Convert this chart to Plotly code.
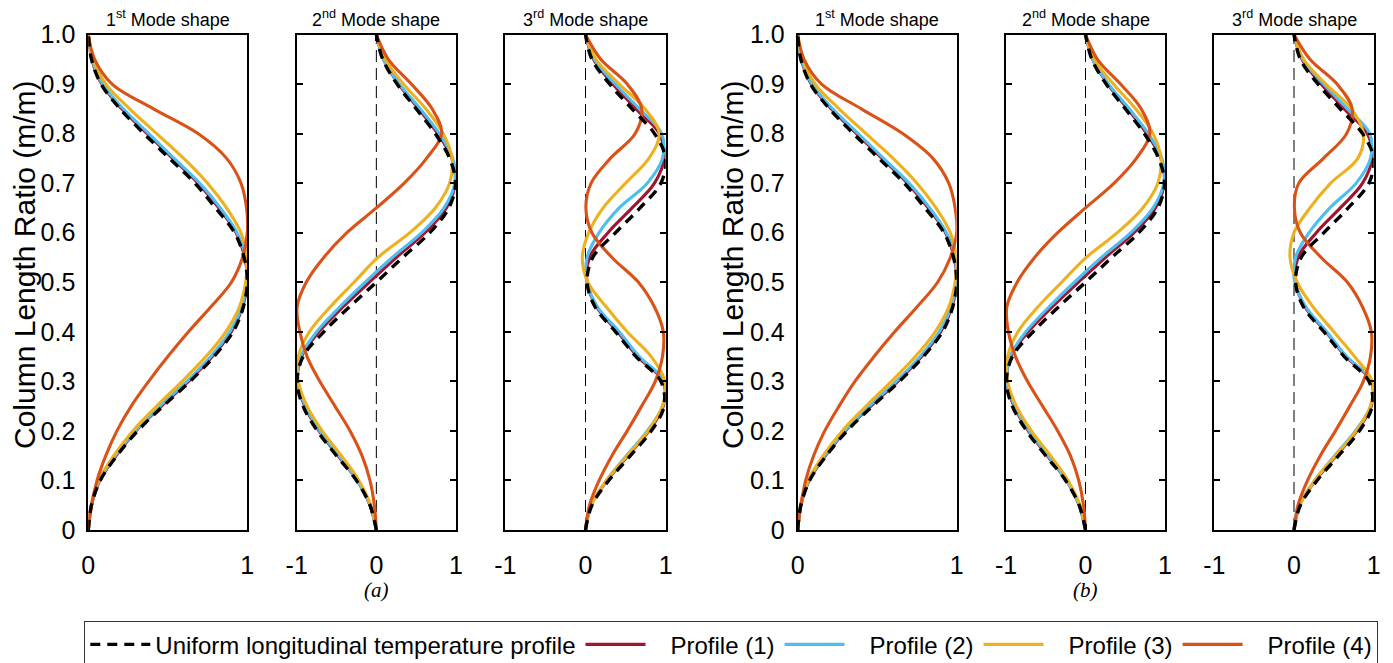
import plotly.graph_objects as go

W, H = 1393, 663

# ---------------- data ----------------
Y = [0.00, 0.05, 0.10, 0.15, 0.20, 0.25, 0.30, 0.35, 0.40, 0.45, 0.50,
     0.55, 0.60, 0.65, 0.70, 0.75, 0.80, 0.85, 0.90, 0.95, 1.00]

# (a) 1st mode
a1_uniform = [0, .02, .075, .18, .31, .47, .64, .79, .91, .975, 1.0, .98, .92, .80, .67, .51, .35, .20, .08, .02, 0]
a1_p1 = [0, .02, .072, .175, .30, .46, .63, .78, .90, .97, .998, .985, .93, .82, .69, .53, .37, .21, .085, .022, 0]
a1_p2 = [0, .02, .07, .17, .295, .45, .62, .77, .89, .965, .995, .99, .935, .83, .70, .54, .38, .22, .09, .024, 0]
a1_p3 = [0, .018, .065, .16, .28, .43, .59, .74, .865, .95, .99, .998, .96, .87, .75, .60, .43, .26, .11, .03, 0]
a1_p4 = [0, .02, .055, .11, .18, .27, .38, .50, .63, .77, .90, .97, 1.0, .995, .96, .87, .69, .41, .15, .04, 0]
# (a) 2nd mode
a2_uniform = [0, -.08, -.25, -.50, -.74, -.92, -.995, -.92, -.66, -.34, 0, .33, .67, .91, .995, .92, .74, .50, .26, .08, 0]
a2_p1 = [0, -.08, -.24, -.48, -.72, -.90, -.99, -.94, -.72, -.42, -.09, .25, .61, .88, .99, .95, .77, .53, .28, .09, 0]
a2_p2 = [0, -.08, -.24, -.47, -.71, -.89, -.99, -.95, -.75, -.46, -.14, .20, .57, .85, .985, .96, .79, .55, .29, .09, 0]
a2_p3 = [0, -.07, -.22, -.44, -.68, -.87, -.98, -.98, -.84, -.58, -.28, .02, .42, .74, .92, .95, .84, .62, .34, .11, 0]
a2_p4 = [0, -.025, -.08, -.18, -.33, -.52, -.71, -.87, -.96, -.995, -.88, -.66, -.37, 0, .35, .63, .82, .70, .44, .15, 0]
# (a) 3rd mode
a3_uniform = [0, .08, .29, .56, .82, .98, .94, .63, .375, .12, .02, .09, .375, .68, .94, 1.0, .86, .58, .30, .08, 0]
a3_p1 = [0, .07, .27, .53, .79, .97, .97, .65, .40, .14, .02, .05, .28, .58, .86, .98, .92, .63, .34, .10, 0]
a3_p2 = [0, .07, .26, .51, .77, .96, .98, .67, .42, .15, .02, .02, .17, .42, .77, .96, .95, .67, .37, .11, 0]
a3_p3 = [0, .07, .26, .52, .78, .96, .99, .82, .52, .26, .03, -.04, .04, .22, .50, .79, .92, .74, .42, .13, 0]
a3_p4 = [0, .05, .17, .33, .52, .70, .87, .96, .97, .86, .66, .33, .08, .005, .07, .31, .62, .70, .52, .19, 0]

# (b) 1st mode
b1_uniform = [0, .02, .075, .18, .31, .47, .64, .79, .91, .975, 1.0, .98, .92, .80, .67, .51, .35, .20, .08, .02, 0]
b1_p1 = [0, .02, .072, .175, .30, .46, .63, .78, .90, .97, .998, .985, .93, .82, .69, .53, .37, .21, .085, .022, 0]
b1_p2 = [0, .02, .07, .17, .295, .45, .62, .77, .89, .965, .995, .99, .935, .83, .70, .54, .38, .22, .09, .024, 0]
b1_p3 = [0, .018, .065, .16, .28, .43, .59, .74, .865, .95, .99, .998, .96, .87, .75, .60, .43, .26, .11, .03, 0]
b1_p4 = [0, .02, .05, .10, .17, .26, .36, .48, .61, .75, .88, .96, 1.0, .99, .95, .85, .66, .40, .15, .04, 0]
# (b) 2nd mode
b2_uniform = [0, -.08, -.25, -.50, -.74, -.92, -.995, -.92, -.66, -.34, 0, .33, .67, .91, .995, .92, .74, .50, .26, .08, 0]
b2_p1 = [0, -.08, -.24, -.48, -.72, -.90, -.99, -.94, -.72, -.42, -.09, .25, .61, .88, .99, .95, .77, .53, .28, .09, 0]
b2_p2 = [0, -.08, -.24, -.47, -.71, -.89, -.99, -.95, -.75, -.46, -.14, .20, .57, .85, .985, .96, .79, .55, .29, .09, 0]
b2_p3 = [0, -.07, -.22, -.44, -.68, -.87, -.98, -.98, -.85, -.60, -.30, .01, .40, .72, .91, .95, .85, .63, .35, .11, 0]
b2_p4 = [0, -.025, -.085, -.19, -.35, -.54, -.73, -.88, -.97, -.99, -.86, -.64, -.35, 0, .36, .64, .81, .70, .44, .15, 0]
# (b) 3rd mode
b3_uniform = [0, .08, .29, .56, .82, .98, .94, .63, .375, .12, .02, .09, .375, .68, .94, 1.0, .86, .58, .30, .08, 0]
b3_p1 = [0, .07, .27, .53, .79, .97, .97, .65, .40, .14, .02, .05, .28, .58, .86, .98, .92, .63, .34, .10, 0]
b3_p2 = [0, .07, .26, .51, .77, .96, .98, .66, .41, .15, .01, .02, .19, .45, .78, .96, .95, .67, .37, .11, 0]
b3_p3 = [0, .07, .26, .52, .78, .96, .98, .76, .50, .24, .04, -.05, .00, .20, .46, .80, .87, .72, .40, .12, 0]
b3_p4 = [0, .05, .17, .33, .52, .70, .87, .96, .97, .86, .67, .34, .08, .005, .06, .37, .66, .73, .54, .20, 0]

series_names = ["Uniform longitudinal temperature profile",
                "Profile (1)", "Profile (2)", "Profile (3)", "Profile (4)"]
panel_titles = ["1<sup>st</sup> Mode shape", "2<sup>nd</sup> Mode shape", "3<sup>rd</sup> Mode shape"]
y_tickvals = [0, 0.1, 0.2, 0.3, 0.4, 0.5, 0.6, 0.7, 0.8, 0.9, 1.0]
y_ticktext = ["0", "0.1", "0.2", "0.3", "0.4", "0.5", "0.6", "0.7", "0.8", "0.9", "1.0"]
group_labels = ["(a)", "(b)"]
y_title = "Column Length Ratio (m/m)"

panels = [
    [a1_uniform, a1_p1, a1_p2, a1_p3, a1_p4],
    [a2_uniform, a2_p1, a2_p2, a2_p3, a2_p4],
    [a3_uniform, a3_p1, a3_p2, a3_p3, a3_p4],
    [b1_uniform, b1_p1, b1_p2, b1_p3, b1_p4],
    [b2_uniform, b2_p1, b2_p2, b2_p3, b2_p4],
    [b3_uniform, b3_p1, b3_p2, b3_p3, b3_p4],
]

# ---------------- styling ----------------
colors = ["black", "#A2142F", "#4DBEEE", "#EDB120", "#D95319"]
FONT = "Liberation Sans, Arial, sans-serif"
NB = "\u00a0"
legend_labels = [series_names[0]] + [NB * 3 + s for s in series_names[1:]]
px_x = [(88.3, 247.3), (296.7, 456.0), (505.3, 665.7),
        (797.7, 956.7), (1006.0, 1165.0), (1214.3, 1373.7)]
py_top, py_bot = 34.5, 530.0
ydom = [1 - py_bot / H, 1 - py_top / H]

fig = go.Figure()

for i, curves in enumerate(panels):
    k = i + 1
    xa = "x" if k == 1 else f"x{k}"
    ya = "y" if k == 1 else f"y{k}"
    order = [1, 2, 3, 4, 0]   # uniform dashed drawn on top
    for j in order:
        fig.add_trace(go.Scatter(
            x=curves[j], y=Y, xaxis=xa, yaxis=ya, mode="lines",
            name=legend_labels[j], legendgroup=series_names[j],
            showlegend=(i == 0), legendrank=j + 1,
            line=dict(color=colors[j], width=3.4 if j == 0 else 3.1,
                      dash="10px,7px" if j == 0 else "solid",
                      shape="spline", smoothing=1.0),
            hoverinfo="skip"))

layout = dict(
    width=W, height=H, margin=dict(l=0, r=0, t=0, b=0, autoexpand=False),
    paper_bgcolor="white", plot_bgcolor="white",
    font=dict(family=FONT, color="black", size=24),
    showlegend=True,
    legend=dict(orientation="h", x=84 / W, y=1 - 621 / H, xanchor="left", yanchor="top",
                bordercolor="#333333", borderwidth=1.3, bgcolor="white",
                font=dict(family=FONT, size=24, color="black"),
                itemwidth=60, tracegroupgap=0, traceorder="normal"),
)

tick_common = dict(ticklen=6, tickwidth=2, tickcolor="black", showgrid=False,
                   zeroline=False, automargin=False, fixedrange=True)

for i in range(6):
    k = i + 1
    kx = "xaxis" if k == 1 else f"xaxis{k}"
    ky = "yaxis" if k == 1 else f"yaxis{k}"
    first = (i % 3 == 0)
    x0, x1 = px_x[i]
    layout[kx] = dict(
        domain=[x0 / W, x1 / W], anchor="y" if k == 1 else f"y{k}",
        range=[0, 1] if first else [-1, 1],
        tickvals=[0, 1] if first else [-1, 0, 1],
        ticktext=["0", "1"] if first else ["-1", "0", "1"],
        ticks="inside", showline=True, linecolor="black", linewidth=2, mirror="ticks",
        ticklabelstandoff=12, tickfont=dict(size=25, family=FONT), **tick_common)
    layout[ky] = dict(
        domain=ydom, anchor="x" if k == 1 else f"x{k}",
        range=[0, 1], tickvals=y_tickvals, ticktext=y_ticktext,
        showticklabels=first,
        ticks="" if first else "inside",
        showline=True, linecolor="black", linewidth=2,
        mirror=True if first else "ticks",
        ticklabelstandoff=6 if first else 0,
        tickfont=dict(size=25, family=FONT), **tick_common)

# right-hand inside ticks for the first panel of each group (no ticks on its left edge)
for n, (k, xname) in enumerate([(1, "x"), (4, "x4")]):
    layout[f"yaxis{7 + n}"] = dict(
        overlaying="y" if k == 1 else f"y{k}", anchor=xname, side="right",
        range=[0, 1], tickvals=y_tickvals, showticklabels=False,
        ticks="inside", showline=False, **tick_common)

fig.update_layout(**layout)

annotations = []
shapes = []
for i in range(6):
    x0, x1 = px_x[i]
    annotations.append(dict(
        text=panel_titles[i % 3], xref="paper", yref="paper",
        x=(x0 + x1) / 2 / W, y=1 - 18 / H, xanchor="center", yanchor="middle",
        showarrow=False, font=dict(size=18, family=FONT)))
    if i % 3 != 0:
        k = i + 1
        shapes.append(dict(type="line", xref=f"x{k}", yref=f"y{k} domain",
                           x0=0, x1=0, y0=0, y1=1, layer="below",
                           line=dict(color="black", width=1, dash="12px,6px")))

for g, (cx, tx) in enumerate([(376, 24), (1085.7, 732)]):
    annotations.append(dict(
        text="<i>" + group_labels[g] + "</i>", xref="paper", yref="paper",
        x=cx / W, y=1 - 590 / H, xanchor="center", yanchor="middle",
        showarrow=False, font=dict(size=21, family="Liberation Serif, Times New Roman, serif")))
    annotations.append(dict(
        text=y_title, xref="paper", yref="paper", textangle=-90,
        x=tx / W, y=1 - 265 / H, xanchor="center", yanchor="middle",
        showarrow=False, font=dict(size=30, family=FONT)))

fig.update_layout(annotations=annotations, shapes=shapes)

fig.write_html("out.html")
